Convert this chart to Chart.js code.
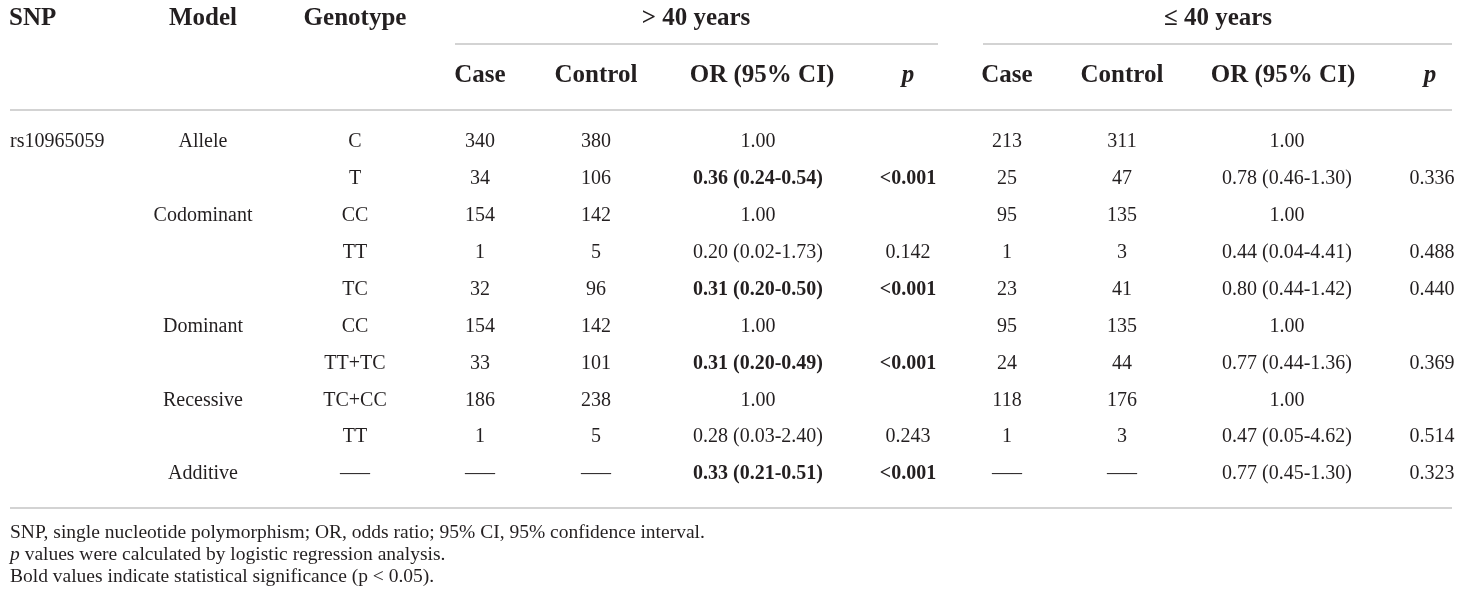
<!DOCTYPE html>
<html>
<head>
<meta charset="utf-8">
<script src="https://cdn.jsdelivr.net/npm/chart.js@4.4.1/dist/chart.umd.min.js"></script>
<style>
  html, body { margin: 0; padding: 0; background: #fff; }
  canvas { display: block; }
</style>
</head>
<body>
<canvas id="table" width="1460" height="599"></canvas>
<script>
// ─── DATI ─────────────────────────────────────────────────────────
const snps = ["rs10965059", "", "", "", "", "", "", "", "", ""];
const models = ["Allele", "", "Codominant", "", "", "Dominant", "", "Recessive", "", "Additive"];
const genotypes = ["C", "T", "CC", "TT", "TC", "CC", "TT+TC", "TC+CC", "TT", "—–"];

const olderCase = ["340", "34", "154", "1", "32", "154", "33", "186", "1", "—–"];
const olderControl = ["380", "106", "142", "5", "96", "142", "101", "238", "5", "—–"];
const olderOR = ["1.00", "0.36 (0.24-0.54)", "1.00", "0.20 (0.02-1.73)", "0.31 (0.20-0.50)",
  "1.00", "0.31 (0.20-0.49)", "1.00", "0.28 (0.03-2.40)", "0.33 (0.21-0.51)"];
const olderP = ["", "<0.001", "", "0.142", "<0.001", "", "<0.001", "", "0.243", "<0.001"];

const youngerCase = ["213", "25", "95", "1", "23", "95", "24", "118", "1", "—–"];
const youngerControl = ["311", "47", "135", "3", "41", "135", "44", "176", "3", "—–"];
const youngerOR = ["1.00", "0.78 (0.46-1.30)", "1.00", "0.44 (0.04-4.41)", "0.80 (0.44-1.42)",
  "1.00", "0.77 (0.44-1.36)", "1.00", "0.47 (0.05-4.62)", "0.77 (0.45-1.30)"];
const youngerP = ["", "0.336", "", "0.488", "0.440", "", "0.369", "", "0.514", "0.323"];

const groupTitles = ["> 40 years", "≤ 40 years"];
const subHeaders = ["Case", "Control", "OR (95% CI)", "p"];
const footnotes = [
  "SNP, single nucleotide polymorphism; OR, odds ratio; 95% CI, 95% confidence interval.",
  "p values were calculated by logistic regression analysis.",
  "Bold values indicate statistical significance (p < 0.05).",
];

// ─── LAYOUT ───────────────────────────────────────────────────────
const INK = "#231f20";
const RULE = "#c4c4c4";
const SERIF = "'Liberation Serif', 'Times New Roman', serif";
const rowY = (i) => 142 + i * 36.9;

// significativo se p < 0.05 → grassetto
const isSig = (p) => p.startsWith("<") || (p !== "" && parseFloat(p) < 0.05);

function column(texts, x, align, boldFn) {
  return {
    data: texts.map((_, i) => ({ x, y: rowY(i) })),
    texts,
    align,
    bold: texts.map((_, i) => (boldFn ? boldFn(i) : false)),
    pointRadius: 0,
    showLine: false,
  };
}

const sigOld = (i) => isSig(olderP[i]);
const sigYoung = (i) => isSig(youngerP[i]);

const datasets = [
  column(snps, 10, "left"),
  column(models, 203, "center"),
  column(genotypes, 355, "center"),
  column(olderCase, 480, "center"),
  column(olderControl, 596, "center"),
  column(olderOR, 758, "center", sigOld),
  column(olderP, 908, "center", sigOld),
  column(youngerCase, 1007, "center"),
  column(youngerControl, 1122, "center"),
  column(youngerOR, 1287, "center", sigYoung),
  column(youngerP, 1432, "center", sigYoung),
];

// ─── PLUGIN TABELLA ──────────────────────────────────────────────
const tablePlugin = {
  id: "tablePlugin",
  afterDatasetsDraw(chart) {
    const { ctx, scales } = chart;
    const X = (v) => scales.x.getPixelForValue(v);
    const Y = (v) => scales.y.getPixelForValue(v);

    ctx.save();
    ctx.fillStyle = INK;
    ctx.textBaseline = "middle";

    // righe orizzontali
    ctx.strokeStyle = RULE;
    ctx.lineWidth = 1.5;
    const hline = (x1, x2, y) => {
      ctx.beginPath();
      ctx.moveTo(X(x1), Y(y));
      ctx.lineTo(X(x2), Y(y));
      ctx.stroke();
    };
    hline(455, 938, 44);
    hline(983, 1452, 44);
    hline(10, 1452, 110);
    hline(10, 1452, 508);

    // intestazioni
    const head = (t, x, y, align, italic) => {
      ctx.font = `${italic ? "italic " : ""}bold 25px ${SERIF}`;
      ctx.textAlign = align;
      ctx.fillText(t, X(x), Y(y));
    };
    head("SNP", 9, 19, "left");
    head("Model", 203, 19, "center");
    head("Genotype", 355, 19, "center");
    head(groupTitles[0], 696, 19, "center");
    head(groupTitles[1], 1218, 19, "center");

    const subX = [[480, 596, 762, 908], [1007, 1122, 1283, 1430]];
    subX.forEach((xs) => {
      xs.forEach((x, k) => head(subHeaders[k], x, 76, "center", subHeaders[k] === "p"));
    });

    // celle dati
    chart.data.datasets.forEach((ds, di) => {
      const meta = chart.getDatasetMeta(di);
      meta.data.forEach((pt, i) => {
        const t = ds.texts[i];
        if (!t) return;
        ctx.font = `${ds.bold[i] ? "bold " : ""}20px ${SERIF}`;
        ctx.textAlign = ds.align;
        ctx.fillText(t, pt.x, pt.y);
      });
    });

    // note
    ctx.textAlign = "left";
    ctx.font = `19.5px ${SERIF}`;
    ctx.fillText(footnotes[0], X(10), Y(533));

    ctx.font = `italic 19.5px ${SERIF}`;
    ctx.fillText("p", X(10), Y(555));
    const pw = ctx.measureText("p").width;
    ctx.font = `19.5px ${SERIF}`;
    ctx.fillText(footnotes[1].slice(1), X(10) + pw, Y(555));

    ctx.fillText(footnotes[2], X(10), Y(577));
    ctx.restore();
  },
};

// ─── INIT ─────────────────────────────────────────────────────────
new Chart(document.getElementById("table"), {
  type: "scatter",
  data: { datasets },
  options: {
    responsive: false,
    animation: false,
    layout: { padding: 0 },
    plugins: { legend: { display: false }, tooltip: { enabled: false } },
    scales: {
      x: { type: "linear", min: 0, max: 1460, display: false },
      y: { type: "linear", min: 0, max: 599, reverse: true, display: false },
    },
  },
  plugins: [tablePlugin],
});
</script>
</body>
</html>
